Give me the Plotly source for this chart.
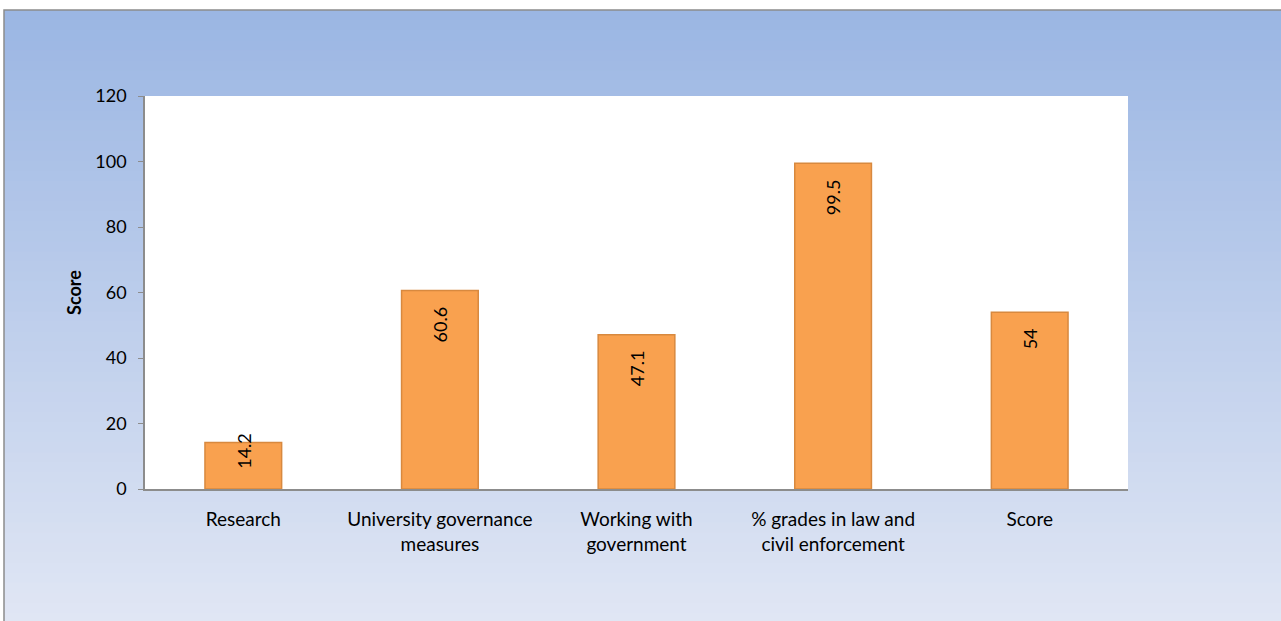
import plotly.graph_objects as go

categories = ["Research", "University governance<br>measures", "Working with<br>government",
              "% grades in law and<br>civil enforcement", "Score"]
scores = [14.2, 60.6, 47.1, 99.5, 54]
labels = ["14.2", "60.6", "47.1", "99.5", "54"]
y_ticks = [0, 20, 40, 60, 80, 100, 120]

FONT = "Lato, 'Open Sans', sans-serif"
W, H = 1281, 621
L, R, T, B = 145, 153, 96, 132
PW, PH = W - L - R, H - T - B


def px(x):
    return (x - L) / PW


def py(y):
    return (H - B - y) / PH


fig = go.Figure()
fig.add_trace(go.Bar(
    x=categories, y=scores, width=0.39,
    marker=dict(color="#f9a14f", line=dict(color="#d8893f", width=1.5)),
    hoverinfo="skip",
))

# rotated value labels near bar tops
for cat, val, txt in zip(categories, scores, labels):
    shift = -14 if val > 30 else 12
    fig.add_annotation(x=cat, y=val, text=txt, textangle=-90, showarrow=False,
                       yanchor="top", yshift=shift,
                       font=dict(family=FONT, size=18, color="#000"))

# background gradient of the chart area, drawn as thin bands
top = (155, 182, 227)
bot = (224, 230, 244)
n = 61
y_start, y_end = 10, H + 2
shapes = []
for i in range(n):
    t = i / (n - 1)
    c = tuple(round(top[k] + (bot[k] - top[k]) * t) for k in range(3))
    ya = y_start + (y_end - y_start) * i / n
    yb = y_start + (y_end - y_start) * (i + 1) / n + 1
    shapes.append(dict(type="rect", xref="paper", yref="paper", x0=px(4), x1=px(W + 5),
                       y0=py(yb), y1=py(ya), line_width=0,
                       fillcolor="rgb(%d,%d,%d)" % c, layer="below"))
shapes.append(dict(type="rect", xref="paper", yref="paper", x0=px(4), x1=px(W + 10),
                   y0=py(H + 10), y1=py(10), line=dict(color="#8c8c8c", width=1.5),
                   fillcolor="rgba(0,0,0,0)", layer="below"))
shapes.append(dict(type="rect", xref="x domain", yref="y domain", x0=0, x1=1, y0=0, y1=1,
                   line_width=0, fillcolor="white", layer="below"))

fig.update_layout(
    width=W, height=H,
    margin=dict(l=L, r=R, t=T, b=B, autoexpand=False),
    paper_bgcolor="white", plot_bgcolor="rgba(0,0,0,0)",
    shapes=shapes, showlegend=False,
    font=dict(family=FONT, size=18, color="#000"),
)
fig.update_yaxes(range=[0, 120], tickvals=y_ticks, showgrid=False, zeroline=False,
                 showline=True, linecolor="#8c8c8c", linewidth=1.5,
                 ticks="outside", ticklen=5, tickcolor="#8c8c8c", ticklabelstandoff=8,
                 tickfont=dict(size=18),
                 title=dict(text="<b>Score</b>", font=dict(size=18), standoff=9))
fig.update_xaxes(showgrid=False, showline=True, linecolor="#8c8c8c", linewidth=2,
                 ticks="outside", ticklen=12, tickcolor="rgba(0,0,0,0)",
                 tickfont=dict(size=19))

fig.write_html("out.html", config={"displayModeBar": False},
               post_script="document.body.style.margin='0';")
